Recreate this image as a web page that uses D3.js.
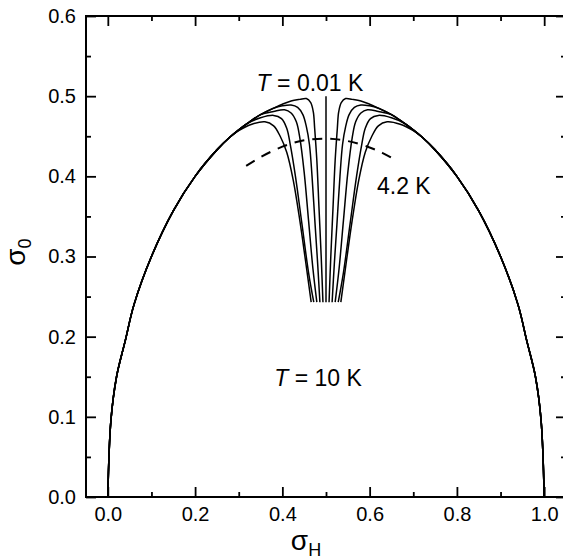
<!DOCTYPE html>
<html>
<head>
<meta charset="utf-8">
<script src="https://cdn.jsdelivr.net/npm/d3@7"></script>
<style>
  body { margin: 0; background: #fff; }
  text { font-family: "Liberation Sans", Arial, sans-serif; }
</style>
</head>
<body>
<div class="chart"></div>
<script>
// shared outer arc (left half)
var envelope = [[0, 0], [0.007, 0.095], [0.02, 0.15], [0.04, 0.195], [0.06, 0.24],
  [0.1, 0.3], [0.15, 0.357], [0.2, 0.4], [0.25, 0.433], [0.28, 0.449], [0.3, 0.458],
  [0.32, 0.466], [0.35, 0.477], [0.38, 0.485], [0.4, 0.49], [0.42, 0.494], [0.44, 0.496]];

// where each curve leaves the arc, and its own tail down into the dip
var branchAt = [0.44, 0.38, 0.35, 0.32, 0.28];
var tails = [
  [[0.455, 0.497], [0.465, 0.492], [0.471, 0.48], [0.474, 0.46], [0.479, 0.42], [0.484, 0.36], [0.489, 0.30], [0.493, 0.243]],
  [[0.40, 0.488], [0.42, 0.489], [0.435, 0.486], [0.447, 0.477], [0.455, 0.462], [0.462, 0.44], [0.468, 0.40], [0.475, 0.34], [0.481, 0.29], [0.486, 0.243]],
  [[0.38, 0.481], [0.405, 0.483], [0.42, 0.479], [0.432, 0.468], [0.44, 0.448], [0.45, 0.405], [0.46, 0.345], [0.47, 0.285], [0.479, 0.243]],
  [[0.35, 0.473], [0.38, 0.476], [0.398, 0.472], [0.41, 0.46], [0.418, 0.44], [0.43, 0.40], [0.445, 0.34], [0.46, 0.28], [0.472, 0.243]],
  [[0.30, 0.457], [0.33, 0.465], [0.36, 0.468], [0.38, 0.463], [0.395, 0.45], [0.41, 0.43], [0.425, 0.395], [0.44, 0.345], [0.453, 0.295], [0.466, 0.243]]
];
var centerLine = [[0.5, 0.243], [0.5, 0.5]];

// 4.2 K dashed curve
var dashed = [[0.317, 0.413], [0.35, 0.424], [0.4, 0.437], [0.45, 0.445], [0.5, 0.447],
  [0.55, 0.444], [0.6, 0.436], [0.63, 0.429], [0.66, 0.42]];

var xTicks = [0, 0.2, 0.4, 0.6, 0.8, 1.0];
var xMinor = [0.1, 0.3, 0.5, 0.7, 0.9];
var yTicks = [0, 0.1, 0.2, 0.3, 0.4, 0.5, 0.6];
var yMinor = [0.05, 0.15, 0.25, 0.35, 0.45, 0.55];

var w = 563, h = 559;
var padL = 86, padR = 566, padT = 16, padB = 497;

var x = d3.scaleLinear().domain([-0.05, 1.05]).range([padL, padR]);
var y = d3.scaleLinear().domain([0, 0.6]).range([padB, padT]);

var svg = d3.select(".chart").append("svg")
  .attr("width", w)
  .attr("height", h);

var line = d3.line()
  .x(function(d) { return x(d[0]); })
  .y(function(d) { return y(d[1]); })
  .curve(d3.curveCatmullRom.alpha(0.5));

var halves = [];
tails.forEach(function(t, i) {
  var pts = envelope.filter(function(p) { return p[0] <= branchAt[i]; }).concat(t);
  halves.push(pts);
  halves.push(pts.map(function(p) { return [1 - p[0], p[1]]; }));
});

svg.selectAll("path.curve")
  .data(halves)
  .enter()
  .append("path")
  .attr("class", "curve")
  .attr("d", line)
  .attr("fill", "none")
  .attr("stroke", "#000")
  .attr("stroke-width", 1.5);

svg.append("path")
  .attr("d", d3.line().x(function(d) { return x(d[0]); }).y(function(d) { return y(d[1]); })(centerLine))
  .attr("fill", "none")
  .attr("stroke", "#000")
  .attr("stroke-width", 1.5);

svg.append("path")
  .attr("d", line(dashed))
  .attr("fill", "none")
  .attr("stroke", "#000")
  .attr("stroke-width", 2)
  .attr("stroke-dasharray", "10,8");

// frame and inward ticks
function ticks(sel, axis, size) {
  sel.call(axis.tickSizeInner(-size).tickSizeOuter(0).tickPadding(10));
}

var gB = svg.append("g").attr("transform", "translate(0," + padB + ")");
ticks(gB, d3.axisBottom(x).tickValues(xTicks).tickFormat(d3.format(".1f")), 10);
var gBm = svg.append("g").attr("transform", "translate(0," + padB + ")");
ticks(gBm, d3.axisBottom(x).tickValues(xMinor).tickFormat(""), 5);

var gT = svg.append("g").attr("transform", "translate(0," + padT + ")");
ticks(gT, d3.axisTop(x).tickValues(xTicks).tickFormat(""), 10);
var gTm = svg.append("g").attr("transform", "translate(0," + padT + ")");
ticks(gTm, d3.axisTop(x).tickValues(xMinor).tickFormat(""), 5);

var gL = svg.append("g").attr("transform", "translate(" + padL + ",0)");
ticks(gL, d3.axisLeft(y).tickValues(yTicks).tickFormat(d3.format(".1f")), 10);
var gLm = svg.append("g").attr("transform", "translate(" + padL + ",0)");
ticks(gLm, d3.axisLeft(y).tickValues(yMinor).tickFormat(""), 5);

var gR = svg.append("g").attr("transform", "translate(" + padR + ",0)");
ticks(gR, d3.axisRight(y).tickValues(yTicks).tickFormat(""), 10);
var gRm = svg.append("g").attr("transform", "translate(" + padR + ",0)");
ticks(gRm, d3.axisRight(y).tickValues(yMinor).tickFormat(""), 5);

svg.selectAll(".domain").remove();
svg.selectAll(".tick line").attr("stroke", "#000").attr("stroke-width", 1.8);
svg.selectAll(".tick text")
  .attr("font-family", "Liberation Sans, Arial, sans-serif")
  .attr("font-size", "20px")
  .attr("fill", "#000");

svg.append("rect")
  .attr("x", padL).attr("y", padT)
  .attr("width", padR - padL).attr("height", padB - padT)
  .attr("fill", "none")
  .attr("stroke", "#000")
  .attr("stroke-width", 2);

// annotations
var t1 = svg.append("text").attr("x", 310).attr("y", 91).attr("text-anchor", "middle").attr("font-size", "23px");
t1.append("tspan").attr("font-style", "italic").text("T");
t1.append("tspan").text(" = 0.01 K");

svg.append("text").attr("x", 377).attr("y", 194).attr("font-size", "23px").text("4.2 K");

var t2 = svg.append("text").attr("x", 318).attr("y", 386).attr("text-anchor", "middle").attr("font-size", "23px");
t2.append("tspan").attr("font-style", "italic").text("T");
t2.append("tspan").text(" = 10 K");

// axis titles
var xl = svg.append("text").attr("x", 306).attr("y", 550).attr("text-anchor", "middle").attr("font-size", "28px");
xl.append("tspan").text("σ");
xl.append("tspan").attr("font-size", "18px").attr("dy", "6").text("H");

var yl = svg.append("text").attr("transform", "translate(25,252) rotate(-90)").attr("text-anchor", "middle").attr("font-size", "28px");
yl.append("tspan").text("σ");
yl.append("tspan").attr("font-size", "18px").attr("dy", "6").text("0");
</script>
</body>
</html>
